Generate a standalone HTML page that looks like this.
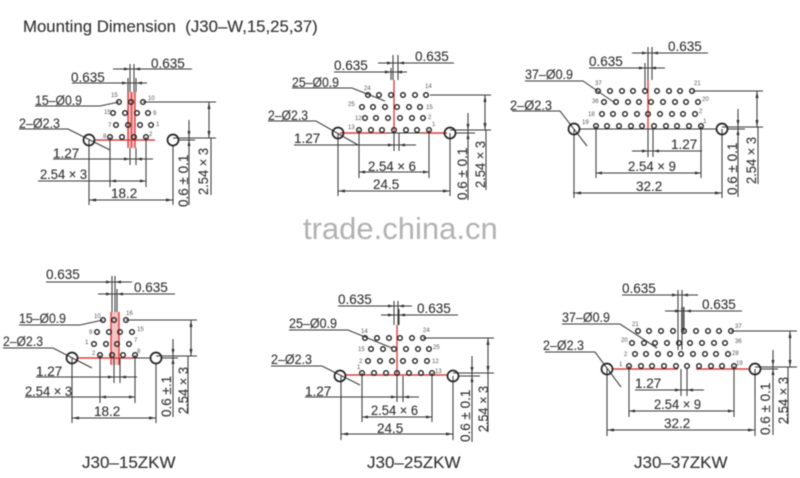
<!DOCTYPE html>
<html><head><meta charset="utf-8"><style>
html,body{margin:0;padding:0;background:#fff}
svg{display:block;filter:blur(.45px)}
text{font-family:"Liberation Sans",sans-serif;fill:#333;stroke:#333;stroke-width:.12;font-size:13.5px}
.n{font-size:6px;fill:#555;stroke:none}
.l{fill:none;stroke:#3a3a3a;stroke-width:1.05}
.r{fill:none;stroke:#d9403f;stroke-width:1.4}
.p{fill:none;stroke:#222;stroke-width:1.4}
.h{fill:none;stroke:#222;stroke-width:1.7}
.a{fill:#333;stroke:none}
</style></head><body>
<svg width="800" height="478" viewBox="0 0 800 478" xmlns="http://www.w3.org/2000/svg">
<rect width="800" height="478" fill="#fff"/>
<text x="23" y="32" style="font-size:16.8px">Mounting Dimension&#160;&#160;(J30–W,15,25,37)</text>
<text x="303" y="239" style="font-size:31px;fill:#b2b2b2;stroke:none">trade.china.cn</text>
<text x="82" y="468" style="font-size:17px">J30–15ZKW</text>
<text x="367" y="468" style="font-size:17px">J30–25ZKW</text>
<text x="634" y="468" style="font-size:17px">J30–37ZKW</text>

<!-- Diagram 1 -->
<g>
<rect x="128" y="92" width="7" height="56" fill="#f6c3c3"/>
<path class="r" d="M95 140H155M128 92V148M131.500 92V148M135 92V148"/>
<path class="l" d="M113 69H192M72 83H147M130 64V92M134 64V92M128 78V92M136 78V92M35 106H100L119 102M19 129H68L110 150M53 159H153M38 181H146M89 200H173M89 140V205M173 145V205M110 137V187M146 137V187M130 148V165M136 148V165M143 102H216M173 138H216M209 102V138M211 138V195M189 120V205M178 140H195"/>
<path class="a" d="M130 69l-6-1.500v3zM134 69l6-1.500v3zM128 83l-6-1.500v3zM136 83l6-1.500v3zM89 200l7-1.500v3zM173 200l-7-1.500v3zM110 181l6-1.500v3zM146 181l-6-1.500v3zM130 159l-6-1.500v3zM136 159l6-1.500v3zM209 102l-1.500 7h3zM209 138l-1.500-7h3zM189 137l-1.500-6h3zM189 140l-1.500 6h3z"/>
<g class="p"><circle cx="119" cy="102" r="2.300"/><circle cx="131" cy="102" r="2.300"/><circle cx="143" cy="102" r="2.300"/><circle cx="113" cy="113" r="2.300"/><circle cx="125" cy="113" r="2.300"/><circle cx="137" cy="113" r="2.300"/><circle cx="148" cy="113" r="2.300"/><circle cx="116" cy="125" r="2.300"/><circle cx="128" cy="125" r="2.300"/><circle cx="140" cy="125" r="2.300"/><circle cx="151" cy="125" r="2.300"/><circle cx="110" cy="137" r="2.300"/><circle cx="122" cy="137" r="2.300"/><circle cx="134" cy="137" r="2.300"/><circle cx="146" cy="137" r="2.300"/></g>
<g class="h"><circle cx="89" cy="140" r="5.500"/><circle cx="173" cy="140" r="5.500"/></g>
<text class="n" x="111" y="97">15</text><text class="n" x="148" y="100">10</text><text class="n" x="104" y="114">15</text><text class="n" x="153" y="115">9</text><text class="n" x="108" y="127">7</text><text class="n" x="156" y="126">1</text><text class="n" x="103" y="138">8</text><text class="n" x="149" y="136">2</text>
<text x="151" y="68">0.635</text><text x="71" y="82">0.635</text><text x="35" y="105" textLength="47" lengthAdjust="spacingAndGlyphs">15–Ø0.9</text><text x="19" y="128" textLength="41" lengthAdjust="spacingAndGlyphs">2–Ø2.3</text><text x="53" y="158">1.27</text><text x="40" y="179" textLength="47" lengthAdjust="spacingAndGlyphs">2.54 × 3</text><text x="111" y="198">18.2</text>
<text transform="translate(188,207) rotate(-90)">0.6 ± 0.1</text><text transform="translate(208,195) rotate(-90)" textLength="47" lengthAdjust="spacingAndGlyphs">2.54 × 3</text>
</g>

<!-- Diagram 2 -->
<g>
<path class="r" d="M340 133H387M422 133H447M394 80V133"/>
<path class="l" d="M378 63H454M334 72H407M393 55V80M398 55V80M391 68V80M292 88H352L385 101M268 121H316L358 145M294 145H416M359 172H429M338 191H450M338 133V196M450 133V196M359 130V178M429 130V178M394 133V151M399 133V151M430 95H491M450 130H491M485 95V130M486 130V190M468 113V200M387 133H422M455 133H475"/>
<path class="a" d="M393 63l-6-1.500v3zM398 63l6-1.500v3zM391 72l-6-1.500v3zM396 72l6-1.500v3zM338 191l7-1.500v3zM450 191l-7-1.500v3zM359 172l6-1.500v3zM429 172l-6-1.500v3zM394 145l-6-1.500v3zM399 145l6-1.500v3zM485 95l-1.500 7h3zM485 130l-1.500-7h3zM468 130l-1.500-6h3zM468 133l-1.500 6h3z"/>
<g class="p"><circle cx="368" cy="95" r="2.300"/><circle cx="379" cy="95" r="2.300"/><circle cx="391" cy="95" r="2.300"/><circle cx="403" cy="95" r="2.300"/><circle cx="415" cy="95" r="2.300"/><circle cx="426" cy="95" r="2.300"/><circle cx="362" cy="107" r="2.300"/><circle cx="373" cy="107" r="2.300"/><circle cx="385" cy="107" r="2.300"/><circle cx="397" cy="107" r="2.300"/><circle cx="409" cy="107" r="2.300"/><circle cx="420" cy="107" r="2.300"/><circle cx="365" cy="118" r="2.300"/><circle cx="376" cy="118" r="2.300"/><circle cx="388" cy="118" r="2.300"/><circle cx="400" cy="118" r="2.300"/><circle cx="412" cy="118" r="2.300"/><circle cx="423" cy="118" r="2.300"/><circle cx="359" cy="130" r="2.300"/><circle cx="371" cy="130" r="2.300"/><circle cx="382" cy="130" r="2.300"/><circle cx="394" cy="130" r="2.300"/><circle cx="406" cy="130" r="2.300"/><circle cx="417" cy="130" r="2.300"/><circle cx="429" cy="130" r="2.300"/></g>
<g class="h"><circle cx="338" cy="133" r="5.500"/><circle cx="450" cy="133" r="5.500"/></g>
<text class="n" x="364" y="90">24</text><text class="n" x="425" y="88">14</text><text class="n" x="348" y="106">25</text><text class="n" x="426" y="109">15</text><text class="n" x="355" y="120">12</text><text class="n" x="428" y="119">2</text><text class="n" x="348" y="129">13</text><text class="n" x="432" y="126">1</text>
<text x="415" y="61">0.635</text><text x="334" y="70">0.635</text><text x="292" y="87" textLength="47" lengthAdjust="spacingAndGlyphs">25–Ø0.9</text><text x="268" y="120" textLength="40" lengthAdjust="spacingAndGlyphs">2–Ø2.3</text><text x="294" y="143">1.27</text><text x="368" y="171" textLength="48" lengthAdjust="spacingAndGlyphs">2.54 × 6</text><text x="373" y="189">24.5</text>
<text transform="translate(467,200) rotate(-90)">0.6 ± 0.1</text><text transform="translate(485,188) rotate(-90)" textLength="47" lengthAdjust="spacingAndGlyphs">2.54 × 3</text>
</g>

<!-- Diagram 3 -->
<g>
<path class="r" d="M648 80V129"/>
<path class="l" d="M632 53H708M589 68H665M648 47V80M652 47V80M645 63V90M525 81H583L615 103M512 111H560L587 146M632 151H702M596 173H701M573 193H722M574 129V198M722 129V198M596 126V178M701 126V178M648 129V157M653 129V157M693 91H763M722 127H763M757 91V127M758 127V184M738 109V197M580 129H717M727 129H745"/>
<path class="a" d="M648 53l-6-1.500v3zM652 53l6-1.500v3zM645 68l-6-1.500v3zM650 68l6-1.500v3zM574 193l7-1.500v3zM722 193l-7-1.500v3zM596 173l6-1.500v3zM701 173l-6-1.500v3zM648 151l-6-1.500v3zM653 151l6-1.500v3zM757 91l-1.500 7h3zM757 127l-1.500-7h3zM738 126l-1.500-6h3zM738 129l-1.500 6h3z"/>
<g class="p"><circle cx="598" cy="91" r="2.300"/><circle cx="610" cy="91" r="2.300"/><circle cx="622" cy="91" r="2.300"/><circle cx="633" cy="91" r="2.300"/><circle cx="645" cy="91" r="2.300"/><circle cx="657" cy="91" r="2.300"/><circle cx="669" cy="91" r="2.300"/><circle cx="680" cy="91" r="2.300"/><circle cx="692" cy="91" r="2.300"/><circle cx="604" cy="102" r="2.300"/><circle cx="616" cy="102" r="2.300"/><circle cx="628" cy="102" r="2.300"/><circle cx="639" cy="102" r="2.300"/><circle cx="651" cy="102" r="2.300"/><circle cx="663" cy="102" r="2.300"/><circle cx="675" cy="102" r="2.300"/><circle cx="686" cy="102" r="2.300"/><circle cx="698" cy="102" r="2.300"/><circle cx="602" cy="114" r="2.300"/><circle cx="613" cy="114" r="2.300"/><circle cx="625" cy="114" r="2.300"/><circle cx="637" cy="114" r="2.300"/><circle cx="648" cy="114" r="2.300"/><circle cx="660" cy="114" r="2.300"/><circle cx="672" cy="114" r="2.300"/><circle cx="683" cy="114" r="2.300"/><circle cx="695" cy="114" r="2.300"/><circle cx="596" cy="126" r="2.300"/><circle cx="607" cy="126" r="2.300"/><circle cx="619" cy="126" r="2.300"/><circle cx="631" cy="126" r="2.300"/><circle cx="642" cy="126" r="2.300"/><circle cx="654" cy="126" r="2.300"/><circle cx="666" cy="126" r="2.300"/><circle cx="677" cy="126" r="2.300"/><circle cx="689" cy="126" r="2.300"/><circle cx="701" cy="126" r="2.300"/></g>
<g class="h"><circle cx="574" cy="129" r="5.500"/><circle cx="722" cy="129" r="5.500"/></g>
<text class="n" x="595" y="85">37</text><text class="n" x="694" y="85">21</text><text class="n" x="592" y="103">36</text><text class="n" x="702" y="101">20</text><text class="n" x="588" y="116">18</text><text class="n" x="699" y="113">2</text><text class="n" x="582" y="124">19</text><text class="n" x="703" y="123">1</text>
<text x="668" y="51">0.635</text><text x="589" y="66">0.635</text><text x="525" y="79" textLength="48" lengthAdjust="spacingAndGlyphs">37–Ø0.9</text><text x="510" y="110" textLength="42" lengthAdjust="spacingAndGlyphs">2–Ø2.3</text><text x="671" y="149">1.27</text><text x="628" y="171" textLength="48" lengthAdjust="spacingAndGlyphs">2.54 × 9</text><text x="636" y="191">32.2</text>
<text transform="translate(737,195) rotate(-90)">0.6 ± 0.1</text><text transform="translate(756,184) rotate(-90)" textLength="47" lengthAdjust="spacingAndGlyphs">2.54 × 3</text>
</g>

<!-- Diagram 4 -->
<g>
<rect x="111" y="312" width="8" height="53" fill="#f6c3c3"/>
<path class="r" d="M77 358H133M111 312V365M119 312V365"/>
<path class="l" d="M46 282H132M98 294H175M112 276V312M115 276V312M117 289V312M19 325H80L103 320M3 348H53L92 368M36 377H137M25 397H135M72 418H156M72 358V423M156 363V423M100 355V403M135 355V403M114 358V383M120 358V383M126 320H197M156 356H197M191 320V356M188 356V414M173 339V417M133 358H150M161 358H178"/>
<path class="a" d="M112 282l-6-1.500v3zM115 282l6-1.500v3zM112 294l-6-1.500v3zM117 294l6-1.500v3zM72 418l7-1.500v3zM156 418l-7-1.500v3zM100 397l6-1.500v3zM135 397l-6-1.500v3zM114 377l-6-1.500v3zM120 377l6-1.500v3zM191 320l-1.500 7h3zM191 356l-1.500-7h3zM173 355l-1.500-6h3zM173 358l-1.500 6h3z"/>
<g class="p"><circle cx="103" cy="320" r="2.300"/><circle cx="114" cy="320" r="2.300"/><circle cx="126" cy="320" r="2.300"/><circle cx="97" cy="332" r="2.300"/><circle cx="109" cy="332" r="2.300"/><circle cx="120" cy="332" r="2.300"/><circle cx="132" cy="332" r="2.300"/><circle cx="94" cy="344" r="2.300"/><circle cx="106" cy="344" r="2.300"/><circle cx="117" cy="344" r="2.300"/><circle cx="129" cy="344" r="2.300"/><circle cx="100" cy="355" r="2.300"/><circle cx="112" cy="355" r="2.300"/><circle cx="123" cy="355" r="2.300"/><circle cx="135" cy="355" r="2.300"/></g>
<g class="h"><circle cx="72" cy="358" r="5.500"/><circle cx="156" cy="358" r="5.500"/></g>
<text class="n" x="94" y="318">10</text><text class="n" x="126" y="315">16</text><text class="n" x="89" y="334">9</text><text class="n" x="137" y="331">15</text><text class="n" x="85" y="344">1</text><text class="n" x="134" y="342">7</text><text class="n" x="92" y="355">2</text><text class="n" x="137" y="353">8</text>
<text x="46" y="279">0.635</text><text x="134" y="292">0.635</text><text x="19" y="323" textLength="47" lengthAdjust="spacingAndGlyphs">15–Ø0.9</text><text x="3" y="346" textLength="40" lengthAdjust="spacingAndGlyphs">2–Ø2.3</text><text x="36" y="376">1.27</text><text x="25" y="396" textLength="47" lengthAdjust="spacingAndGlyphs">2.54 × 3</text><text x="94" y="416">18.2</text>
<text transform="translate(171,417) rotate(-90)">0.6 ±.1</text><text transform="translate(188,414) rotate(-90)" textLength="47" lengthAdjust="spacingAndGlyphs">2.54 × 3</text>
</g>

<!-- Diagram 5 -->
<g>
<path class="r" d="M345 375H447M397 325V375"/>
<path class="l" d="M338 306H412M381 315H458M394 301V325M398 301V325M399 309V325M289 330H348L392 348M271 366H322L360 385M305 397H419M362 417H432M341 434H453M341 376V440M453 376V440M362 373V422M432 373V422M397 376V402M403 376V402M423 338H494M453 373H494M488 338V373M488 373V432M472 356V442M458 376H480"/>
<path class="a" d="M394 306l-6-1.500v3zM398 306l6-1.500v3zM394 315l-6-1.500v3zM399 315l6-1.500v3zM341 434l7-1.500v3zM453 434l-7-1.500v3zM362 417l6-1.500v3zM432 417l-6-1.500v3zM397 397l-6-1.500v3zM403 397l6-1.500v3zM488 338l-1.500 7h3zM488 373l-1.500-7h3zM472 373l-1.500-6h3zM472 376l-1.500 6h3z"/>
<g class="p"><circle cx="365" cy="338" r="2.300"/><circle cx="377" cy="338" r="2.300"/><circle cx="389" cy="338" r="2.300"/><circle cx="400" cy="338" r="2.300"/><circle cx="412" cy="338" r="2.300"/><circle cx="423" cy="338" r="2.300"/><circle cx="371" cy="349" r="2.300"/><circle cx="383" cy="349" r="2.300"/><circle cx="394" cy="349" r="2.300"/><circle cx="406" cy="349" r="2.300"/><circle cx="418" cy="349" r="2.300"/><circle cx="429" cy="349" r="2.300"/><circle cx="368" cy="361" r="2.300"/><circle cx="380" cy="361" r="2.300"/><circle cx="392" cy="361" r="2.300"/><circle cx="403" cy="361" r="2.300"/><circle cx="415" cy="361" r="2.300"/><circle cx="427" cy="361" r="2.300"/><circle cx="362" cy="373" r="2.300"/><circle cx="374" cy="373" r="2.300"/><circle cx="386" cy="373" r="2.300"/><circle cx="397" cy="373" r="2.300"/><circle cx="409" cy="373" r="2.300"/><circle cx="421" cy="373" r="2.300"/><circle cx="432" cy="373" r="2.300"/></g>
<g class="h"><circle cx="340" cy="376" r="5.500"/><circle cx="453" cy="376" r="5.500"/></g>
<text class="n" x="361" y="333">14</text><text class="n" x="423" y="332">24</text><text class="n" x="358" y="351">15</text><text class="n" x="433" y="349">25</text><text class="n" x="359" y="363">2</text><text class="n" x="432" y="363">12</text><text class="n" x="357" y="369">1</text><text class="n" x="435" y="373">13</text>
<text x="338" y="304">0.635</text><text x="417" y="313">0.635</text><text x="289" y="328" textLength="48" lengthAdjust="spacingAndGlyphs">25–Ø0.9</text><text x="271" y="364" textLength="41" lengthAdjust="spacingAndGlyphs">2–Ø2.3</text><text x="305" y="396">1.27</text><text x="371" y="415" textLength="47" lengthAdjust="spacingAndGlyphs">2.54 × 6</text><text x="377" y="433">24.5</text>
<text transform="translate(470,442) rotate(-90)">0.6 ± 0.1</text><text transform="translate(488,432) rotate(-90)" textLength="46" lengthAdjust="spacingAndGlyphs">2.54 × 3</text>
</g>

<!-- Diagram 6 -->
<g>
<rect x="681" y="307" width="3" height="25" fill="#999"/>
<path class="r" d="M612 369H678M696 369H750"/>
<path class="l" d="M622 295H698M665 311H742M678 290V350M682 290V350M684 307V332M562 324H620L657 348M545 352H595L621 387M635 390H704M629 411H734M607 430H755M607 369V436M755 369V436M629 366V417M734 366V417M681 369V396M687 369V396M731 331H797M755 367H797M790 331V367M788 367V424M773 350V435M761 369H778"/>
<path class="a" d="M678 295l-6-1.500v3zM682 295l6-1.500v3zM681 311l-6-1.500v3zM685 311l6-1.500v3zM607 430l7-1.500v3zM755 430l-7-1.500v3zM629 411l6-1.500v3zM734 411l-6-1.500v3zM681 390l-6-1.500v3zM687 390l6-1.500v3zM790 331l-1.500 7h3zM790 367l-1.500-7h3zM773 366l-1.500-6h3zM773 369l-1.500 6h3z"/>
<g class="p"><circle cx="638" cy="331" r="2.300"/><circle cx="649" cy="331" r="2.300"/><circle cx="661" cy="331" r="2.300"/><circle cx="673" cy="331" r="2.300"/><circle cx="684" cy="331" r="2.300"/><circle cx="696" cy="331" r="2.300"/><circle cx="708" cy="331" r="2.300"/><circle cx="719" cy="331" r="2.300"/><circle cx="731" cy="331" r="2.300"/><circle cx="632" cy="343" r="2.300"/><circle cx="644" cy="343" r="2.300"/><circle cx="655" cy="343" r="2.300"/><circle cx="667" cy="343" r="2.300"/><circle cx="679" cy="343" r="2.300"/><circle cx="690" cy="343" r="2.300"/><circle cx="702" cy="343" r="2.300"/><circle cx="714" cy="343" r="2.300"/><circle cx="725" cy="343" r="2.300"/><circle cx="635" cy="354" r="2.300"/><circle cx="646" cy="354" r="2.300"/><circle cx="658" cy="354" r="2.300"/><circle cx="670" cy="354" r="2.300"/><circle cx="681" cy="354" r="2.300"/><circle cx="693" cy="354" r="2.300"/><circle cx="705" cy="354" r="2.300"/><circle cx="716" cy="354" r="2.300"/><circle cx="728" cy="354" r="2.300"/><circle cx="629" cy="366" r="2.300"/><circle cx="641" cy="366" r="2.300"/><circle cx="652" cy="366" r="2.300"/><circle cx="664" cy="366" r="2.300"/><circle cx="676" cy="366" r="2.300"/><circle cx="687" cy="366" r="2.300"/><circle cx="699" cy="366" r="2.300"/><circle cx="711" cy="366" r="2.300"/><circle cx="722" cy="366" r="2.300"/><circle cx="734" cy="366" r="2.300"/></g>
<g class="h"><circle cx="607" cy="369" r="5.500"/><circle cx="755" cy="369" r="5.500"/></g>
<text class="n" x="632" y="326">21</text><text class="n" x="735" y="328">37</text><text class="n" x="621" y="342">20</text><text class="n" x="735" y="343">36</text><text class="n" x="624" y="356">2</text><text class="n" x="732" y="355">28</text><text class="n" x="619" y="366">1</text><text class="n" x="736" y="365">19</text>
<text x="622" y="293">0.635</text><text x="702" y="309">0.635</text><text x="562" y="322" textLength="48" lengthAdjust="spacingAndGlyphs">37–Ø0.9</text><text x="543" y="350" textLength="41" lengthAdjust="spacingAndGlyphs">2–Ø2.3</text><text x="635" y="388">1.27</text><text x="654" y="409" textLength="47" lengthAdjust="spacingAndGlyphs">2.54 × 9</text><text x="664" y="428">32.2</text>
<text transform="translate(770,435) rotate(-90)">0.6 ± 0.1</text><text transform="translate(788,424) rotate(-90)" textLength="47" lengthAdjust="spacingAndGlyphs">2.54 × 3</text>
</g>
</svg>
</body></html>
